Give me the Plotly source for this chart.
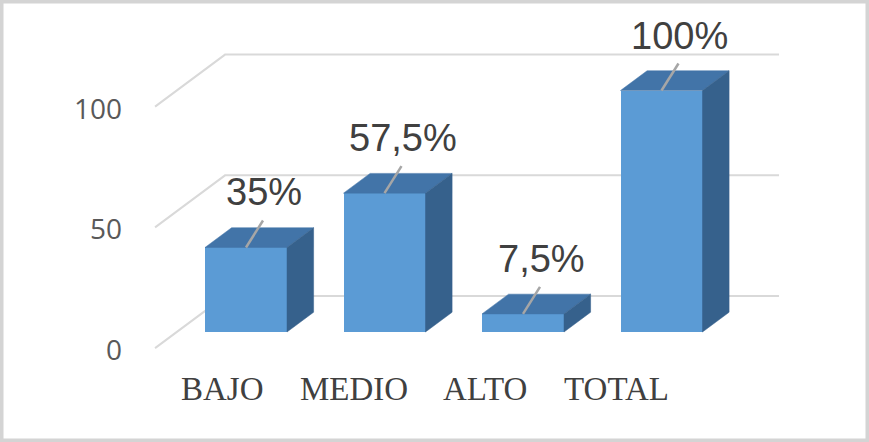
import plotly.graph_objects as go

# ---- data ----
categories = ["BAJO", "MEDIO", "ALTO", "TOTAL"]
values = [35, 57.5, 7.5, 100]
value_labels = ["35%", "57,5%", "7,5%", "100%"]
y_ticks = [0, 50, 100]
y_tick_labels = ["0", "50", "100"]

# ---- layout constants (pixel geometry) ----
W, H = 869, 442
SX, SY = 138.5, 2.415          # px per category unit / per value unit
PX0, PY0 = 246, 332            # pixel of (category 0, value 0) at bar front
DEPTH_PX = (70, 52)            # oblique depth vector (floor front -> back wall)
BAR_D0, BAR_D1 = 0.31, 0.69    # bar depth span
HALF = 0.296                   # half bar width (category units)

FRONT = "#5B9BD5"
TOP = "#4274A8"
SIDE = "#36618C"
GRID = "#D9D9D9"


def proj(x, v, d):
    """Oblique projection of (category x, value v, depth d) onto front axes."""
    return (x + (d - BAR_D0) * DEPTH_PX[0] / SX,
            v + (d - BAR_D0) * DEPTH_PX[1] / SY)


fig = go.Figure()

# gridlines (back wall + left wall), drawn below traces
shapes = []
xmin, xmax = -0.5, len(categories) - 0.5
for v in y_ticks:
    pts = [proj(xmin, v, 0), proj(xmin, v, 1), proj(xmax, v, 1)]
    path = "M {} {} L {} {} L {} {}".format(*[c for p in pts for c in p])
    shapes.append(dict(type="path", path=path, xref="x", yref="y", layer="below",
                       line=dict(color=GRID, width=2)))

# front faces as bars
fig.add_trace(go.Bar(x=list(range(len(categories))), y=values, width=2 * HALF,
                     marker=dict(color=FRONT, line=dict(width=0)),
                     hoverinfo="skip", showlegend=False))

# top and side faces
for i, v in enumerate(values):
    l, r = i - HALF, i + HALF
    top = [proj(l, v, BAR_D0), proj(r, v, BAR_D0), proj(r, v, BAR_D1), proj(l, v, BAR_D1)]
    side = [proj(r, 0, BAR_D0), proj(r, v, BAR_D0), proj(r, v, BAR_D1), proj(r, 0, BAR_D1)]
    for poly, col in ((top, TOP), (side, SIDE)):
        xs = [p[0] for p in poly] + [poly[0][0]]
        ys = [p[1] for p in poly] + [poly[0][1]]
        fig.add_trace(go.Scatter(x=xs, y=ys, mode="lines", fill="toself",
                                 fillcolor=col, line=dict(color=col, width=0.5),
                                 hoverinfo="skip", showlegend=False))
    # leader line
    fig.add_trace(go.Scatter(x=[i, i + 17 / SX], y=[v, v + 27 / SY], mode="lines",
                             line=dict(color="#A6A6A6", width=2.5),
                             hoverinfo="skip", showlegend=False))

annotations = []
# data labels
for i, (v, t) in enumerate(zip(values, value_labels)):
    annotations.append(dict(x=i, y=v, text=t, showarrow=False, xanchor="center",
                            yanchor="middle", xshift=18, yshift=55,
                            font=dict(family="Liberation Sans, Arial", size=38, color="#404040")))
# y tick labels on the left wall front edge
for v, t in zip(y_ticks, y_tick_labels):
    x, y = proj(xmin, v, 0)
    annotations.append(dict(x=x, y=y, text=t, showarrow=False, xanchor="right",
                            yanchor="middle", xshift=-31, yshift=-1,
                            font=dict(family="Open Sans, Liberation Sans", size=28, color="#595959")))
# category labels
for i, c in enumerate(categories):
    px = 222 + 131.5 * i
    annotations.append(dict(x=(px - PX0) / SX, y=(PY0 - 389) / SY, text=c, showarrow=False,
                            xanchor="center", yanchor="middle",
                            font=dict(family="Liberation Serif, Times New Roman", size=33,
                                      color="#404040")))

# outer border
shapes.append(dict(type="rect", xref="paper", yref="paper", x0=0, y0=0, x1=1, y1=1,
                   line=dict(color="#D4D4D4", width=7), layer="above"))

fig.update_layout(
    width=W, height=H, margin=dict(l=0, r=0, t=0, b=0),
    paper_bgcolor="white", plot_bgcolor="white",
    xaxis=dict(range=[(0 - PX0) / SX, (W - PX0) / SX], visible=False, fixedrange=True),
    yaxis=dict(range=[(PY0 - H) / SY, PY0 / SY], visible=False, fixedrange=True),
    shapes=shapes, annotations=annotations, showlegend=False, bargap=0,
)

fig.write_html("out.html", config={"displayModeBar": False},
               post_script="document.body.style.margin='0';document.body.style.overflow='hidden';")
